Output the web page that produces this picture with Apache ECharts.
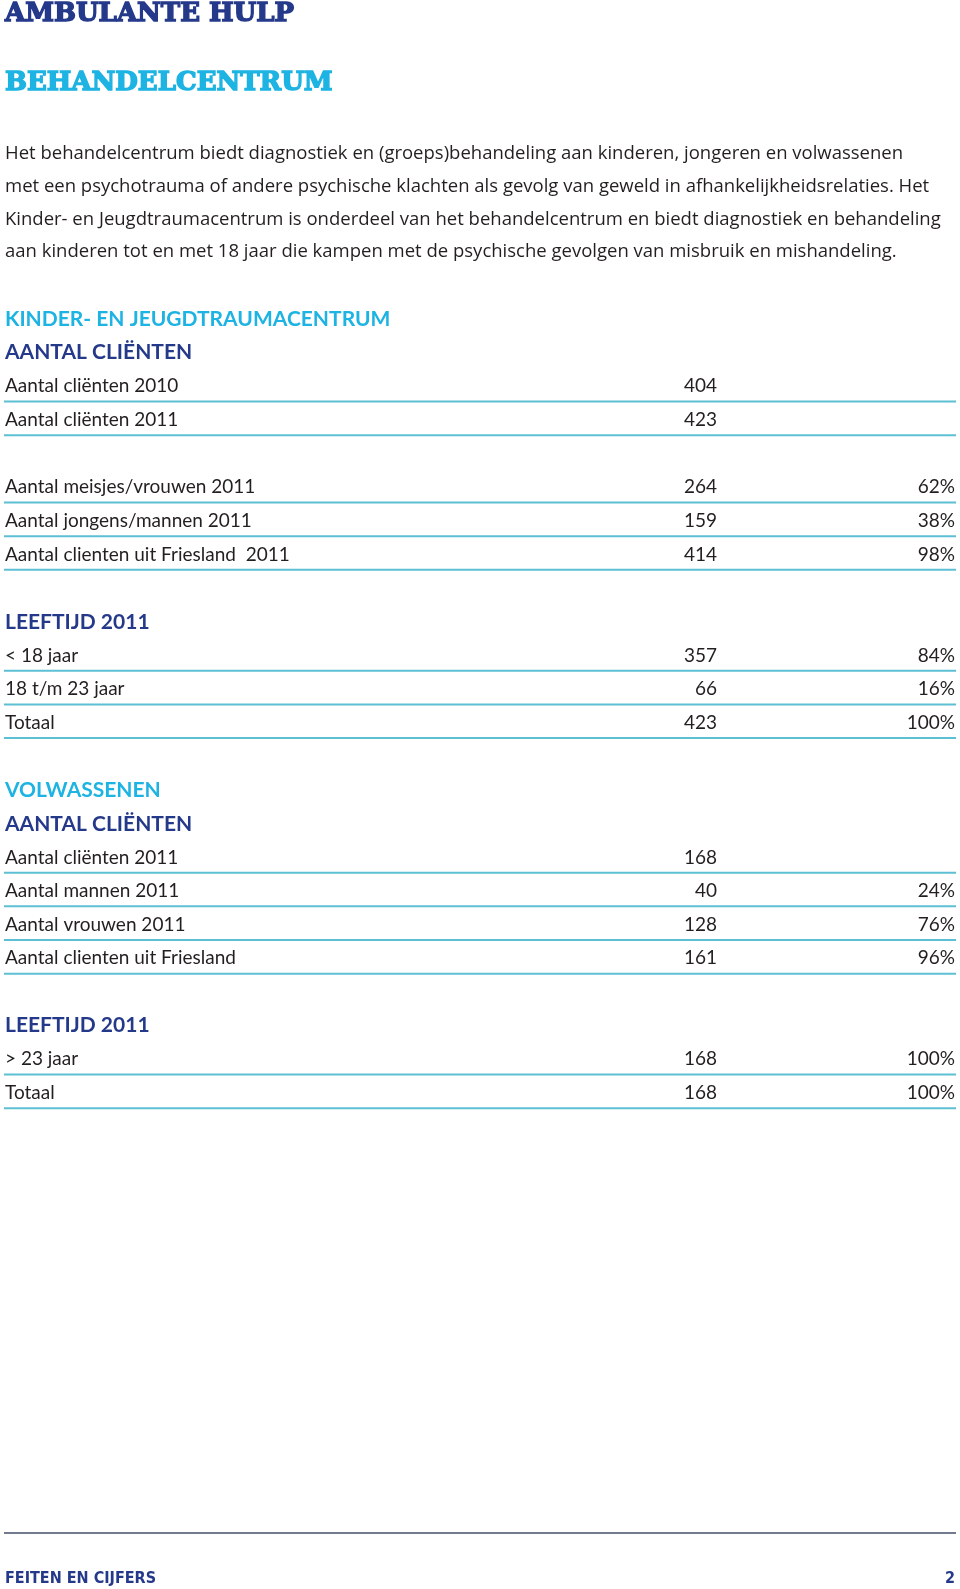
<!DOCTYPE html>
<html>
<head>
<meta charset="utf-8">
<script src="https://cdn.jsdelivr.net/npm/echarts@6/dist/echarts.min.js"></script>
<style>
  html, body { margin: 0; padding: 0; background: #fff; }
  #main { width: 960px; height: 1589px; }
</style>
</head>
<body>
<div id="main"></div>
<script>
// teksten en cijfers
var title = 'AMBULANTE HULP';
var subtitle = 'BEHANDELCENTRUM';
var intro = [
  'Het behandelcentrum biedt diagnostiek en (groeps)behandeling aan kinderen, jongeren en volwassenen',
  'met een psychotrauma of andere psychische klachten als gevolg van geweld in afhankelijkheidsrelaties. Het',
  'Kinder- en Jeugdtraumacentrum is onderdeel van het behandelcentrum en biedt diagnostiek en behandeling',
  'aan kinderen tot en met 18 jaar die kampen met de psychische gevolgen van misbruik en mishandeling.'
];

var kjtcLabels = ['Aantal cliënten 2010', 'Aantal cliënten 2011'];
var kjtcValues = [404, 423];

var genderLabels = ['Aantal meisjes/vrouwen 2011', 'Aantal jongens/mannen 2011', 'Aantal clienten uit Friesland  2011'];
var genderValues = [264, 159, 414];
var genderPct = ['62%', '38%', '98%'];

var kjtcAgeLabels = ['< 18 jaar', '18 t/m 23 jaar', 'Totaal'];
var kjtcAgeValues = [357, 66, 423];
var kjtcAgePct = ['84%', '16%', '100%'];

var volwLabels = ['Aantal cliënten 2011', 'Aantal mannen 2011', 'Aantal vrouwen 2011', 'Aantal clienten uit Friesland'];
var volwValues = [168, 40, 128, 161];
var volwPct = ['', '24%', '76%', '96%'];

var volwAgeLabels = ['> 23 jaar', 'Totaal'];
var volwAgeValues = [168, 168];
var volwAgePct = ['100%', '100%'];

var footerText = 'FEITEN EN CIJFERS';
var pageNo = '2';

var NAVY = '#25398a';
var CYAN = '#1db3e2';
var RULE = '#5dbfd3';
var INK = '#231f20';

// rijen opbouwen (rij-index = positie op de y-as)
var rows = [];
var r = 0;
function head(text, color) {
  rows.push({ row: r++, kind: 'head', text: text, color: color });
}
function block(labels, values, pct) {
  labels.forEach(function (l, i) {
    rows.push({ row: r++, kind: 'row', text: l, value: values[i], pct: pct ? pct[i] : '' });
  });
}
function gap() { r++; }

head('KINDER- EN JEUGDTRAUMACENTRUM', CYAN);
head('AANTAL CLIËNTEN', NAVY);
block(kjtcLabels, kjtcValues);
gap();
block(genderLabels, genderValues, genderPct);
gap();
head('LEEFTIJD 2011', NAVY);
block(kjtcAgeLabels, kjtcAgeValues, kjtcAgePct);
gap();
head('VOLWASSENEN', CYAN);
head('AANTAL CLIËNTEN', NAVY);
block(volwLabels, volwValues, volwPct);
gap();
head('LEEFTIJD 2011', NAVY);
block(volwAgeLabels, volwAgeValues, volwAgePct);

var rowH = 33.65;
var firstRowY = 317;

var myChart = echarts.init(document.getElementById('main'));

var titleFont = { fontFamily: 'DejaVu Serif', fontWeight: 'bold', fontSize: 26 };
var footFont = { fontFamily: 'DejaVu Sans Condensed', fontWeight: 'bold', fontSize: 16 };

function txt(x, y, text, fill, f, align) {
  var el = {
    type: 'text', x: x, y: y,
    style: {
      text: text, fill: fill, fontFamily: f.fontFamily, fontWeight: f.fontWeight,
      fontSize: f.fontSize, align: align || 'left', verticalAlign: 'middle'
    }
  };
  if (f.stroke) {
    el.style.stroke = fill;
    el.style.lineWidth = f.stroke;
  }
  return el;
}

titleFont.stroke = 1.4;

var graphics = [
  txt(5, 14.5, title, NAVY, titleFont),
  txt(5, 83, subtitle, CYAN, titleFont),
  { type: 'line', shape: { x1: 4, y1: 1533, x2: 956, y2: 1533 }, style: { stroke: '#737b8e', lineWidth: 2 } },
  txt(5, 1579, footerText, NAVY, footFont),
  txt(955, 1579, pageNo, NAVY, footFont, 'right')
];
var introFont = { fontFamily: 'Open Sans', fontWeight: 'normal', fontSize: 18.5 };
intro.forEach(function (line, i) {
  graphics.push(txt(5, 154 + i * 32.7, line, INK, introFont));
});

var headFont = { fontFamily: 'Lato', fontWeight: 'bold', fontSize: 21 };
var cellFont = { fontFamily: 'Lato', fontWeight: 'normal', fontSize: 19 };
var textDy = 2;

option = {
  animation: false,
  grid: { left: 0, right: 0, top: firstRowY - rowH / 2, height: rowH * r },
  xAxis: { type: 'value', min: 0, max: 960, show: false },
  yAxis: { type: 'value', min: -0.5, max: r - 0.5, inverse: true, show: false },
  graphic: graphics,
  series: [{
    type: 'custom',
    clip: false,
    data: rows.map(function (d) { return [0, d.row]; }),
    renderItem: function (params, api) {
      var d = rows[params.dataIndex];
      var y = api.coord([0, d.row])[1];
      var xLabel = api.coord([5, 0])[0];
      if (d.kind === 'head') {
        return txt(xLabel, y + textDy, d.text, d.color, headFont);
      }
      var children = [
        txt(xLabel, y + textDy, d.text, INK, cellFont),
        txt(api.coord([717, 0])[0], y + textDy, String(d.value), INK, cellFont, 'right'),
        { type: 'line', shape: { x1: api.coord([4, 0])[0], y1: y + 17.3, x2: api.coord([956, 0])[0], y2: y + 17.3 }, style: { stroke: RULE, lineWidth: 2 } }
      ];
      if (d.pct) {
        children.push(txt(api.coord([955, 0])[0], y + textDy, d.pct, INK, cellFont, 'right'));
      }
      return { type: 'group', children: children };
    }
  }]
};
myChart.setOption(option);
</script>
</body>
</html>
